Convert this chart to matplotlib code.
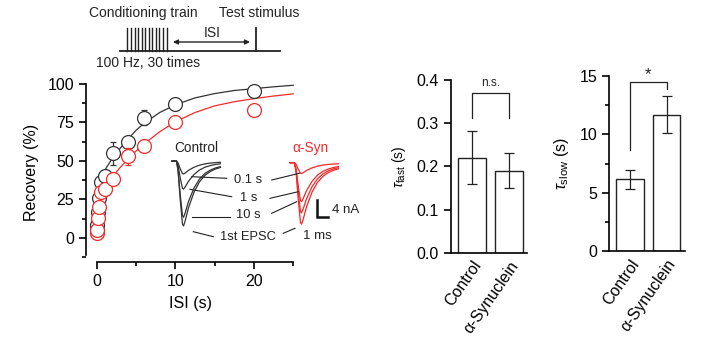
import matplotlib
matplotlib.use('Agg')
import matplotlib.pyplot as plt
import numpy as np

plt.rcParams['font.family'] = ['Liberation Sans', 'DejaVu Sans']
plt.rcParams['mathtext.fontset'] = 'custom'
plt.rcParams['mathtext.rm'] = 'Liberation Sans'
plt.rcParams['mathtext.it'] = 'Liberation Sans:italic'

# ---------------- data ----------------
isi = [0.03, 0.05, 0.1, 0.2, 0.5, 1, 2, 4, 6, 10, 20]
ctrl_rec = [5, 8, 17, 26, 36, 40, 55, 62.5, 78, 87, 95.5]
ctrl_sem = [1, 1, 1, 2, 2, 4, 7.5, 3, 4.8, 2, 2]
syn_rec = [3, 5, 13, 20, 30, 32, 38, 53, 60, 75, 83]
syn_sem = [1, 1, 1, 1, 2, 2, 3, 5.5, 2, 2, 2]

fit_t = [0, 0.1, 0.2, 0.3, 0.5, 0.7, 1, 1.5, 2, 3, 4, 5, 6, 8, 10, 12.5, 15, 17.5, 20, 22.5, 25]
ctrl_fit = [4, 20, 30, 35, 39, 41, 44, 48, 52, 58.5, 64.5, 70, 74.5, 81.5, 86.5, 91, 93.8, 95.8, 97, 98.2, 99.2]
syn_fit = [2, 11, 19, 24, 28, 30, 32.5, 36.5, 40, 46, 51.5, 56.5, 61, 69, 75.5, 81.5, 85.8, 88.5, 90.5, 92.2, 93.6]

groups = ['Control', 'α-Synuclein']
tau_fast = [0.22, 0.19]
tau_fast_err = [0.061, 0.041]
tau_slow = [6.15, 11.7]
tau_slow_err = [0.82, 1.6]

trace_t = [0, 0.4, 0.55, 0.75, 0.95, 1.05, 1.2, 1.5, 2.0, 2.5, 3.0, 3.5, 4.0, 4.4]
trace_shape = [0, 0, -0.15, -0.6, -0.97, -1.0, -0.92, -0.72, -0.48, -0.32, -0.22, -0.16, -0.12, -0.10]
ctrl_amp = [3.0, 6.5, 13.0, 15.0]
syn_amp = [2.5, 9.0, 11.6, 14.2]
trace_labels = ['0.1 s', '1 s', '10 s', '1st EPSC']

RED = '#f22a2a'
DARK = '#333333'
TXT = '#222222'
W, H = 720, 343

fig = plt.figure(figsize=(7.2, 3.43), dpi=100)

def rect(x0, y0, x1, y1):
    return [x0 / W, 1 - y1 / H, (x1 - x0) / W, (y1 - y0) / H]

# ---------------- main recovery plot ----------------
ax = fig.add_axes(rect(86, 82.5, 295.6, 262.3))
ax.set_xlim(-1.4, 25.3)
ax.set_ylim(-16, 101)
ax.plot(fit_t, ctrl_fit, color=DARK, lw=0.9, zorder=2)
ax.plot(fit_t, syn_fit, color=RED, lw=0.9, zorder=2)
ax.errorbar(isi, ctrl_rec, yerr=ctrl_sem, fmt='none', ecolor=DARK, elinewidth=0.9,
            capsize=2.5, capthick=0.9, zorder=3)
ax.plot(isi, ctrl_rec, 'o', ms=10, mfc='white', mec=DARK, mew=0.9, zorder=4)
ax.errorbar(isi, syn_rec, yerr=syn_sem, fmt='none', ecolor=RED, elinewidth=0.9,
            capsize=2.5, capthick=0.9, zorder=5)
ax.plot(isi, syn_rec, 'o', ms=10, mfc='white', mec=RED, mew=0.9, zorder=6)
for s in ['top', 'right']:
    ax.spines[s].set_visible(False)
ax.spines['left'].set_bounds(-11, 100)
ax.spines['bottom'].set_bounds(0, 25)
ax.set_yticks([0, 25, 50, 75, 100])
ax.set_yticks([-12.5, 12.5, 37.5, 62.5, 87.5], minor=True)
ax.set_xticks([0, 10, 20])
ax.set_xticks([5, 15, 25], minor=True)
ax.tick_params(direction='out', length=5, width=1.2, labelsize=11.5)
ax.tick_params(which='minor', direction='out', length=3, width=1.2)
for s in ['left', 'bottom']:
    ax.spines[s].set_linewidth(1.2)
ax.set_ylabel('Recovery (%)', fontsize=11.5, labelpad=6)
ax.set_xlabel('ISI (s)', fontsize=11.5, labelpad=5)
ax.patch.set_visible(False)

# ---------------- inset traces ----------------
ax_in = fig.add_axes(rect(160, 130, 360, 250))
ax_in.set_xlim(0, 200 / 11)
ax_in.set_ylim(-(250 - 160) / 4.33, (160 - 130) / 4.33)
ax_in.axis('off')

def px(x, y):
    return ((x - 160) / 11, (160 - y) / 4.33)

tt = np.array(trace_t)
sh = np.array(trace_shape)
c0 = px(172, 161)
r0 = px(290, 162.7)
for a in ctrl_amp:
    ax_in.plot(c0[0] + tt, c0[1] + a * sh, color=DARK, lw=0.9)
for a in syn_amp:
    ax_in.plot(r0[0] + tt, r0[1] + a * sh, color=RED, lw=0.9)

ax_in.text(*px(196.7, 148.3), 'Control', fontsize=9.8, ha='center', va='center', color=TXT)
ax_in.text(*px(310, 148), 'α-Syn', fontsize=9.8, ha='center', va='center', color=RED)
label_pos = [(248.3, 180), (248.3, 198.3), (248.3, 215), (248.3, 237.3)]
for lab, (lx, ly) in zip(trace_labels, label_pos):
    ax_in.text(*px(lx, ly), lab, fontsize=9.3, ha='center', va='center', color=TXT)
pointers = [
    ((226.7, 178.3), (191.7, 176.7), (271.7, 180), (299.3, 173.3)),
    ((231.7, 196.7), (190, 189.3), (270, 198.3), (298.3, 191.7)),
    ((230, 217.3), (191.7, 217.3), (271.7, 213.3), (296.7, 201.7)),
    ((213.3, 236.7), (193.3, 231.7), (283.3, 233.3), (295, 228.3)),
]
for a1, a2, b1, b2 in pointers:
    p1, p2 = px(*a1), px(*a2)
    ax_in.plot([p1[0], p2[0]], [p1[1], p2[1]], color=TXT, lw=0.8)
    q1, q2 = px(*b1), px(*b2)
    ax_in.plot([q1[0], q2[0]], [q1[1], q2[1]], color=TXT, lw=0.8)
# scale bar
sb = px(317, 217.3)
ax_in.plot([sb[0], sb[0], sb[0] + 1], [sb[1] + 4, sb[1], sb[1]], color='#111111', lw=1.8,
           solid_joinstyle='miter')
ax_in.text(*px(332, 210), '4 nA', fontsize=9.5, ha='left', va='center', color=TXT)
ax_in.text(*px(317, 236), '1 ms', fontsize=9.5, ha='center', va='center', color=TXT)

# ---------------- schematic ----------------
ax_s = fig.add_axes(rect(80, 0, 370, 75))
ax_s.set_xlim(80, 370)
ax_s.set_ylim(75, 0)
ax_s.axis('off')
ax_s.plot([120, 280], [51, 51], color=TXT, lw=1.3)
for xx in np.linspace(127.5, 166.5, 12):
    ax_s.plot([xx, xx], [28, 51], color=TXT, lw=1.0)
ax_s.plot([256, 256], [28, 51], color=TXT, lw=1.3)
ax_s.annotate('', xy=(173, 42), xytext=(250, 42),
              arrowprops=dict(arrowstyle='<|-|>', color=TXT, lw=1.0,
                              mutation_scale=7, shrinkA=0, shrinkB=0))
ax_s.text(212, 33, 'ISI', fontsize=10, ha='center', va='center', color=TXT)
ax_s.text(143, 13, 'Conditioning train', fontsize=10, ha='center', va='center', color=TXT)
ax_s.text(219, 13, 'Test stimulus', fontsize=10, ha='left', va='center', color=TXT)
ax_s.text(96, 63, '100 Hz, 30 times', fontsize=10, ha='left', va='center', color=TXT)

# ---------------- bar charts ----------------
def bar_axes(r, vals, errs, ylim, yticks, ylabel, lab_fs, minor=None):
    b = fig.add_axes(r)
    xs = np.arange(len(vals))
    b.bar(xs, vals, width=0.75, color='white', edgecolor=TXT, linewidth=1.0, zorder=2)
    b.errorbar(xs, vals, yerr=errs, fmt='none', ecolor=TXT, elinewidth=0.9,
               capsize=3.5, capthick=0.9, zorder=3)
    b.set_ylim(*ylim)
    b.set_yticks(yticks)
    if minor is not None:
        b.set_yticks(minor, minor=True)
    b.set_xticks(xs)
    b.set_xticklabels(groups, rotation=55, ha='right', va='top', rotation_mode='anchor',
                      fontsize=11.5)
    b.tick_params(axis='y', direction='out', length=5, width=1.2, labelsize=11.5)
    b.tick_params(axis='y', which='minor', direction='out', length=3, width=1.2)
    b.tick_params(axis='x', length=0, pad=4)
    for s in ['top', 'right']:
        b.spines[s].set_visible(False)
    for s in ['left', 'bottom']:
        b.spines[s].set_linewidth(1.2)
    b.set_ylabel(ylabel, fontsize=lab_fs, labelpad=6)
    return b

ax2 = bar_axes(rect(450.7, 80, 526.7, 252.7), tau_fast, tau_fast_err, (0, 0.4),
               [0.0, 0.1, 0.2, 0.3, 0.4], r'$\tau_{\mathrm{fast}}$ (s)', 10)
ax2.set_xlim(-0.58, 1.48)
ax2.set_yticklabels(['0.0', '0.1', '0.2', '0.3', '0.4'])
ax2.plot([0, 0, 1, 1], [0.312, 0.371, 0.371, 0.312], color=TXT, lw=0.9, clip_on=False)
ax2.text(0.5, 0.378, 'n.s.', fontsize=8.5, ha='center', va='bottom', color=TXT)

ax3 = bar_axes(rect(609.3, 76, 685, 251), tau_slow, tau_slow_err, (0, 15),
               [0, 5, 10, 15], r'$\tau_{\mathrm{slow}}$ (s)', 11.5, minor=[2.5, 7.5, 12.5])
ax3.set_xlim(-0.56, 1.5)
ax3.plot([0, 0, 1, 1], [8.66, 14.46, 14.46, 13.9], color=TXT, lw=0.9, clip_on=False)
ax3.text(0.5, 14.5, '*', fontsize=12, ha='center', va='bottom', color=TXT)

fig.savefig('out.png', dpi=100)
